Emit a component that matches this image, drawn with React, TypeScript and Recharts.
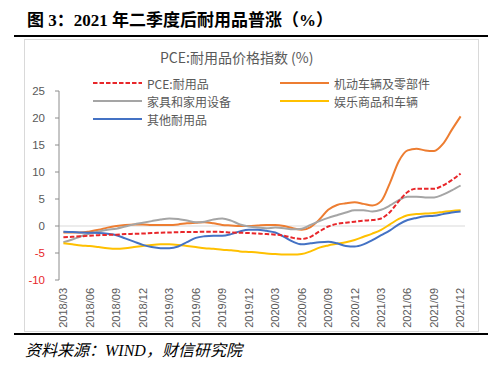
import React from 'react';
import { LineChart, Line, XAxis, YAxis, ReferenceLine } from 'recharts';

// monthly, labels shown every 3rd month
const months = [
  '2018/03', '2018/04', '2018/05', '2018/06', '2018/07', '2018/08', '2018/09', '2018/10',
  '2018/11', '2018/12', '2019/01', '2019/02', '2019/03', '2019/04', '2019/05', '2019/06',
  '2019/07', '2019/08', '2019/09', '2019/10', '2019/11', '2019/12', '2020/01', '2020/02',
  '2020/03', '2020/04', '2020/05', '2020/06', '2020/07', '2020/08', '2020/09', '2020/10',
  '2020/11', '2020/12', '2021/01', '2021/02', '2021/03', '2021/04', '2021/05', '2021/06',
  '2021/07', '2021/08', '2021/09', '2021/10', '2021/11', '2021/12',
];

const pceDurables = [
  -2.1, -2.0, -1.9, -1.8, -1.7, -1.65, -1.6, -1.5, -1.45, -1.4, -1.3, -1.25, -1.2, -1.15, -1.1, -1.1,
  -1.05, -1.05, -1.1, -1.2, -1.25, -1.3, -1.4, -1.5, -1.6, -1.8, -2.2, -2.4, -2.0, -1.0, -0.1, 0.4,
  0.6, 0.8, 1.0, 1.1, 1.4, 2.6, 4.6, 6.3, 6.9, 6.9, 6.9, 7.5, 8.5, 9.7,
];

const motorVehicles = [
  -1.2, -1.2, -1.2, -1.0, -0.7, -0.3, 0.0, 0.2, 0.3, 0.3, 0.2, 0.2, 0.2, 0.3, 0.5, 0.6,
  0.7, 0.5, 0.2, 0.1, 0.0, 0.0, 0.1, 0.2, 0.2, 0.0, -0.4, -0.7, -0.2, 1.2, 3.0, 3.9,
  4.2, 4.4, 4.1, 3.8, 4.6, 8.0, 12.0, 14.0, 14.3, 14.0, 13.9, 15.2, 17.8, 20.3,
];

const furnishings = [
  -3.0, -2.5, -1.9, -1.4, -1.0, -0.7, -0.5, -0.1, 0.3, 0.6, 0.9, 1.2, 1.4, 1.3, 1.0, 0.7,
  0.8, 1.2, 1.4, 1.0, 0.3, -0.1, -0.3, -0.4, -0.3, -0.4, -0.6, -0.5, 0.2, 0.9, 1.5, 2.0,
  2.5, 2.9, 2.9, 2.7, 3.0, 3.8, 4.8, 5.4, 5.4, 5.3, 5.3, 5.8, 6.6, 7.5,
];

const recreational = [
  -3.2, -3.4, -3.6, -3.7, -3.9, -4.1, -4.2, -4.1, -3.9, -3.7, -3.5, -3.4, -3.4, -3.5, -3.7, -3.9,
  -4.1, -4.2, -4.4, -4.5, -4.7, -4.8, -4.9, -5.1, -5.2, -5.3, -5.3, -5.2, -4.7, -4.0, -3.6, -3.3,
  -3.0, -2.6, -2.0, -1.4, -0.7, 0.3, 1.3, 2.0, 2.2, 2.3, 2.4, 2.6, 2.8, 2.9,
];

const otherDurables = [
  -1.05, -1.1, -1.2, -1.25, -1.3, -1.45, -1.7, -2.3, -2.9, -3.5, -3.9, -4.1, -4.1, -3.8, -3.0, -2.2,
  -1.9, -1.8, -1.8, -1.5, -1.0, -0.7, -0.7, -0.9, -1.2, -2.0, -2.9, -3.4, -3.2, -3.0, -2.9, -3.2,
  -3.7, -3.8, -3.4, -2.6, -1.7, -0.8, 0.3, 1.1, 1.5, 1.8, 1.9, 2.2, 2.5, 2.7,
];

const yTicks = [-10, -5, 0, 5, 10, 15, 20, 25];

const series = [
  { key: 'motor', name: '机动车辆及零部件', color: '#ED7D31', dashed: false },
  { key: 'furn', name: '家具和家用设备', color: '#A5A5A5', dashed: false },
  { key: 'rec', name: '娱乐商品和车辆', color: '#FFC000', dashed: false },
  { key: 'other', name: '其他耐用品', color: '#4472C4', dashed: false },
  { key: 'pce', name: 'PCE:耐用品', color: '#E8262A', dashed: true },
];

const legendOrder = ['pce', 'motor', 'furn', 'rec', 'other'];

const data = months.map((m, i) => ({
  month: m,
  pce: pceDurables[i],
  motor: motorVehicles[i],
  furn: furnishings[i],
  rec: recreational[i],
  other: otherDurables[i],
}));

const sans = '"Noto Sans CJK SC", "Noto Sans", sans-serif';
const serif = '"Liberation Serif", "Noto Sans CJK SC", serif';

const XTick = ({ x, y, payload }: any) => (
  <text
    transform={`translate(${x},${y}) rotate(-90)`}
    textAnchor="end"
    dy="0.35em"
    fill="#595959"
    fontSize={11}
    fontFamily='"Liberation Sans", Arial, sans-serif'
  >
    {payload.value}
  </text>
);

const YTick = ({ x, y, payload }: any) => (
  <text
    x={x}
    y={y}
    textAnchor="end"
    dy="0.35em"
    fill={payload.value < 0 ? '#E8262A' : '#595959'}
    fontSize={11.5}
    fontFamily='"Liberation Sans", Arial, sans-serif'
  >
    {payload.value}
  </text>
);

const LegendBox = () => (
  <div
    style={{
      position: 'absolute',
      left: 93,
      top: 74,
      width: 380,
      display: 'grid',
      gridTemplateColumns: '187px 190px',
      rowGap: 0,
      fontFamily: sans,
      fontSize: 12,
      color: '#595959',
    }}
  >
    {legendOrder.map((k) => {
      const s = series.find((d) => d.key === k)!;
      return (
        <div key={k} style={{ display: 'flex', alignItems: 'center', height: 18 }}>
          <svg width={49} height={4} style={{ flex: 'none' }}>
            <line
              x1={0}
              y1={2}
              x2={49}
              y2={2}
              stroke={s.color}
              strokeWidth={2}
              strokeDasharray={s.dashed ? '4.5 2' : undefined}
            />
          </svg>
          <span style={{ marginLeft: 5, whiteSpace: 'nowrap' }}>{s.name}</span>
        </div>
      );
    })}
  </div>
);

const App: React.FC = () => {
  return (
    <div style={{ position: 'absolute', left: 0, top: 0, width: 500, height: 370, background: '#fff' }}>
      <div
        style={{
          position: 'absolute',
          left: 27,
          top: 10,
          fontFamily: serif,
          fontWeight: 'bold',
          fontSize: 17,
          lineHeight: '21px',
          color: '#000',
          whiteSpace: 'nowrap',
        }}
      >
        图 3：2021 年二季度后耐用品普涨（%）
      </div>
      <div style={{ position: 'absolute', left: 14, top: 35, width: 474, height: 2, background: '#000' }} />

      <div
        style={{
          position: 'absolute',
          left: 24,
          top: 39,
          width: 453,
          height: 291,
          border: '1px solid #d9d9d9',
        }}
      />

      <div
        style={{
          position: 'absolute',
          left: 160,
          top: 47,
          fontFamily: sans,
          fontSize: 14,
          lineHeight: '20px',
          color: '#595959',
          whiteSpace: 'nowrap',
        }}
      >
        PCE:耐用品价格指数 (%)
      </div>

      <div style={{ position: 'absolute', left: 20, top: 40 }}>
        <LineChart width={460} height={292} data={data} margin={{ top: 51, right: 15, bottom: 2, left: 0 }}>
          <XAxis
            dataKey="month"
            interval={2}
            axisLine={false}
            tickLine={false}
            tickSize={0}
            tickMargin={8}
            height={50}
            padding={{ left: 4.4, right: 4.4 }}
            tick={<XTick />}
          />
          <YAxis
            domain={[-10, 25]}
            ticks={yTicks}
            width={39}
            axisLine={{ stroke: '#8c8c8c' }}
            tickLine={{ stroke: '#8c8c8c' }}
            tickSize={4}
            tickMargin={10}
            tick={<YTick />}
          />
          <ReferenceLine y={0} stroke="#d9d9d9" strokeWidth={1.2} />
          {series.map((s) => (
            <Line
              key={s.key}
              type="monotone"
              dataKey={s.key}
              name={s.name}
              stroke={s.color}
              strokeWidth={2}
              strokeDasharray={s.dashed ? '4.5 2' : undefined}
              dot={false}
              activeDot={false}
              isAnimationActive={false}
            />
          ))}
        </LineChart>
      </div>

      <LegendBox />

      <div style={{ position: 'absolute', left: 14, top: 333, width: 474, height: 2, background: '#000' }} />
      <div
        style={{
          position: 'absolute',
          left: 25,
          top: 341,
          fontFamily: serif,
          fontStyle: 'italic',
          fontSize: 16,
          lineHeight: '20px',
          color: '#000',
          whiteSpace: 'nowrap',
        }}
      >
        资料来源：WIND，财信研究院
      </div>
    </div>
  );
};

export default App;
